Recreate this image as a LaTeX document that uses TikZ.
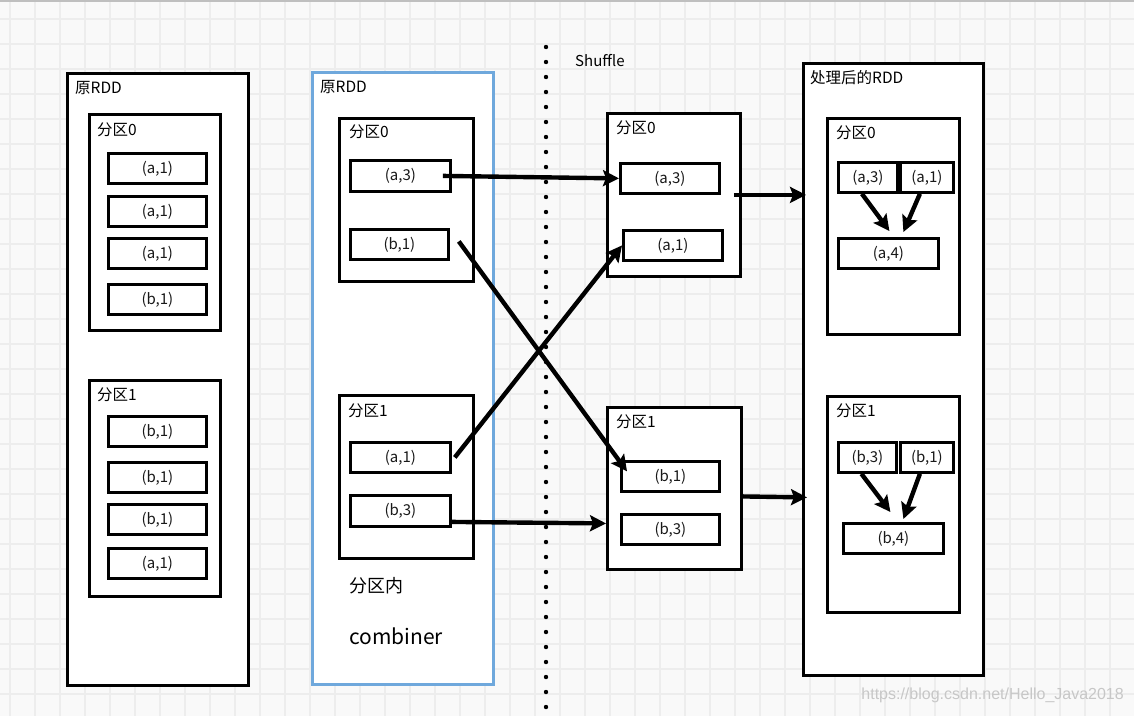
\documentclass[tikz,border=0pt]{standalone}
\usepackage{fontspec}
\setmainfont{Noto Sans CJK SC}
\newfontfamily\markfont{Liberation Sans}
\usetikzlibrary{arrows.meta}
\definecolor{gridcol}{HTML}{EDEDED}
\definecolor{bgcol}{HTML}{F9F9F9}
\definecolor{combblue}{HTML}{6FA8DC}

\begin{document}
\begin{tikzpicture}[x=1pt,y=-1pt,>={Stealth[length=16pt,width=16pt,inset=3pt]},
    grid line/.style={draw=gridcol,line width=1.4pt},
    rdd box/.style={draw,line width=3pt,fill=white,anchor=north west,inner sep=0pt},
    part box/.style={draw,line width=2.8pt,fill=white,anchor=north west,inner sep=0pt},
    pair node/.style={draw,line width=2.8pt,fill=white,anchor=north west,inner sep=0pt,
        minimum height=30pt,text=black!90,font=\fontsize{15}{17}\selectfont},
    box label/.style={anchor=west,inner sep=0pt,font=\fontsize{15.5}{17}\selectfont},
    flow/.style={->,line width=4.4pt}]
\useasboundingbox (0,0) rectangle (1134,716);
\fill[bgcol] (0,0) rectangle (1134,716);
\foreach \x in {10,35,...,1110} \draw[grid line] (\x,0) -- (\x,716);
\foreach \y in {19,44,...,700} \draw[grid line] (0,\y) -- (1134,\y);
\draw[black!25,line width=1.5pt] (0,0.75) -- (1134,0.75);

% original RDD
\node[rdd box,minimum width=181pt,minimum height=612pt] (l) at (66,72) {};
\node[box label] (lt) at (75,88) {原RDD};
\node[part box,minimum width=131pt,minimum height=216pt] (l0) at (88,113) {};
\node[box label] (l0t) at (97,130) {分区0};
\node[pair node,minimum width=98pt] (l0a) at (107,152) {(a,1)};
\node[pair node,minimum width=98pt] (l0b) at (107,195) {(a,1)};
\node[pair node,minimum width=98pt] (l0c) at (107,237) {(a,1)};
\node[pair node,minimum width=98pt] (l0d) at (107,283) {(b,1)};
\node[part box,minimum width=131pt,minimum height=216pt] (l1) at (88,379) {};
\node[box label] (l1t) at (97,395) {分区1};
\node[pair node,minimum width=98pt] (l1a) at (107,415) {(b,1)};
\node[pair node,minimum width=98pt] (l1b) at (107,461) {(b,1)};
\node[pair node,minimum width=98pt] (l1c) at (107,503) {(b,1)};
\node[pair node,minimum width=98pt] (l1d) at (107,547) {(a,1)};

% after map-side combine
\node[rdd box,draw=combblue,minimum width=181pt,minimum height=612pt] (m) at (311,71) {};
\node[box label] (mt) at (320,87) {原RDD};
\node[part box,minimum width=134pt,minimum height=163pt] (m0) at (338,117) {};
\node[box label] (m0t) at (349,132) {分区0};
\node[pair node,minimum width=100pt,minimum height=31pt] (m0a) at (349,159) {(a,3)};
\node[pair node,minimum width=98pt] (m0b) at (349,228) {(b,1)};
\node[part box,minimum width=134pt,minimum height=163pt] (m1) at (338,394) {};
\node[box label] (m1t) at (348,411) {分区1};
\node[pair node,minimum width=100pt] (m1a) at (349,441) {(a,1)};
\node[pair node,minimum width=100pt,minimum height=31pt] (m1b) at (349,494) {(b,3)};
\node[anchor=west,inner sep=0pt,font=\fontsize{18}{20}\selectfont] (inside) at (349,586) {分区内};
\node[anchor=west,inner sep=0pt,font=\fontsize{21}{24}\selectfont] (comb) at (349,636) {combiner};

% shuffle
\draw[line width=4.4pt,line cap=round,dash pattern=on 0pt off 15pt] (546,47) -- (546,716);
\node[box label,font=\fontsize{15}{17}\selectfont] (shuf) at (575,61) {Shuffle};
\node[part box,minimum width=133pt,minimum height=163pt] (s0) at (606,112) {};
\node[box label] (s0t) at (616,128) {分区0};
\node[pair node,minimum width=99pt] (s0a) at (619,162) {(a,3)};
\node[pair node,minimum width=99pt] (s0b) at (622,229) {(a,1)};
\node[part box,minimum width=134pt,minimum height=162pt] (s1) at (606,406) {};
\node[box label] (s1t) at (616,422) {分区1};
\node[pair node,minimum width=98pt] (s1a) at (620,460) {(b,1)};
\node[pair node,minimum width=98pt] (s1b) at (620,513) {(b,3)};

% result
\node[rdd box,minimum width=180pt,minimum height=612pt] (r) at (802,62) {};
\node[box label] (rt) at (810,78) {处理后的RDD};
\node[part box,minimum width=132pt,minimum height=216pt] (r0) at (826,117) {};
\node[box label] (r0t) at (836,133) {分区0};
\node[pair node,minimum width=59pt] (r0a) at (837,161) {(a,3)};
\node[pair node,minimum width=53pt] (r0b) at (899,161) {(a,1)};
\node[pair node,minimum width=100pt] (r0c) at (837,237) {(a,4)};
\node[part box,minimum width=132pt,minimum height=216pt] (r1) at (826,395) {};
\node[box label] (r1t) at (836,411) {分区1};
\node[pair node,minimum width=58pt] (r1a) at (837,441) {(b,3)};
\node[pair node,minimum width=53pt] (r1b) at (899,441) {(b,1)};
\node[pair node,minimum width=100pt] (r1c) at (842,522) {(b,4)};

\draw[flow] ([xshift=-9pt]m0a.east) -- (s0a.west);
\draw[flow] ([shift={(9,-3)}]m0b.east) -- ([shift={(7,-5)}]s1a.west);
\draw[flow] ([shift={(3,0)}]m1a.east) -- (s0b.west);
\draw[flow] ([shift={(0,11)}]m1b.east) -- ([shift={(0,35)}]s1.west);
\draw[flow] ([xshift=-8pt]s0.east) -- ([xshift=4pt]r.west |- s0.east);
\draw[flow] ([shift={(-2,8)}]s1.east) -- ([shift={(5,9)}]r.west |- s1.east);
\draw[flow] ([xshift=-6pt]r0a.south) -- ([shift={(1,-6)}]r0c.north);
\draw[flow] ([xshift=-7pt]r0b.south) -- ([shift={(15,-5)}]r0c.north);
\draw[flow] ([xshift=-6pt]r1a.south) -- ([shift={(-3,-10)}]r1c.north);
\draw[flow] ([xshift=-7pt]r1b.south) -- ([shift={(10,-3)}]r1c.north);

\node[anchor=east,inner sep=0pt,text=black!22,font=\markfont\fontsize{16}{18}\selectfont] (mark) at (1124,695) {https://blog.csdn.net/Hello\_Java2018};
\end{tikzpicture}
\end{document}
